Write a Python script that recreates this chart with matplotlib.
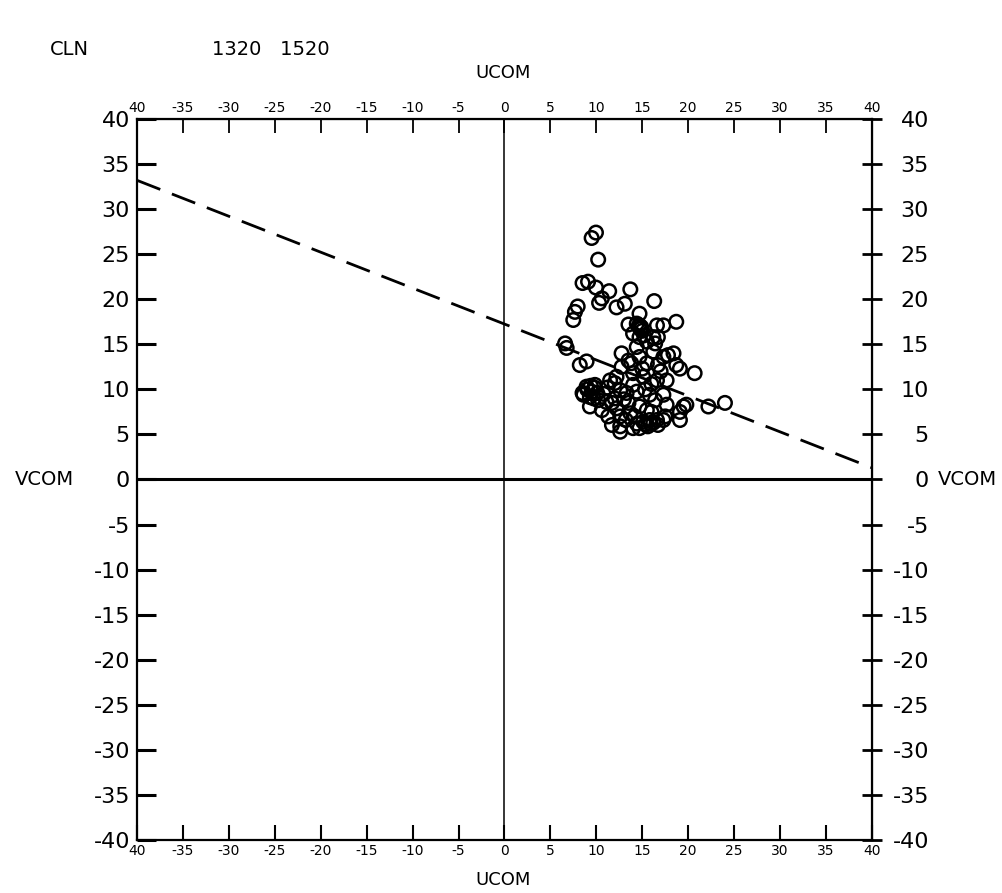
import matplotlib
matplotlib.use('Agg')
import matplotlib.pyplot as plt

plt.rcParams['font.family'] = ['DejaVu Sans']

# 刻度
ticks = list(range(-40, 41, 5))
x_top_labels = ['40'] + [str(t) for t in ticks[1:]]
x_bot_labels = ['40'] + [str(t) for t in ticks[1:]]
y_labels = [str(t) for t in ticks]

# 风矢量散点 (UCOM, VCOM)
ucom = [9.96, 9.49, 10.2, 8.5, 9.1, 9.96, 11.4, 13.7, 10.6, 10.3,
        12.2, 13.1, 16.3, 7.97, 7.67, 7.49, 14.7, 18.7, 13.5, 14.4,
        14.7, 16.6, 17.3, 16.7, 16.2, 14.0, 14.7, 6.6, 6.77, 15.5,
        16.4, 14.4, 12.75, 14.7, 16.2, 17.3, 18.4, 8.94, 8.2, 12.75,
        13.8, 15.5, 16.7, 18.7, 19.1, 20.7, 12.2, 14.0, 15.1, 16.6,
        17.65, 8.94, 9.5, 9.85, 8.5, 9.3, 8.6, 9.7, 11.5, 12.0,
        12.6, 13.3, 14.4, 15.8, 16.4, 17.3, 17.65, 19.5, 19.8, 22.2,
        24.0, 10.2, 11.1, 11.7, 9.3, 10.6, 12.2, 13.5, 14.7, 15.5,
        19.1, 19.1, 11.3, 12.6, 13.7, 11.7, 12.6, 12.6, 14.4, 15.1,
        15.8, 16.6, 17.3, 14.7, 15.6, 16.7, 14.0, 14.0, 15.3, 13.0,
        16.0, 17.0, 15.0, 13.5, 12.0, 10.8, 11.2, 16.0, 17.5, 14.2,
        15.0, 15.2, 14.8, 14.6, 9.0, 9.8, 10.1, 15.9, 13.2, 17.8,
        15.4, 16.2, 14.9, 9.4]
vcom = [27.4, 26.8, 24.4, 21.8, 21.95, 21.3, 20.9, 21.1, 20.1, 19.6,
        19.1, 19.5, 19.8, 19.2, 18.6, 17.7, 18.4, 17.5, 17.2, 17.3,
        17.1, 17.1, 17.1, 15.8, 15.8, 16.2, 15.8, 15.1, 14.6, 15.3,
        15.1, 14.7, 14.0, 13.6, 14.2, 13.6, 14.0, 13.1, 12.7, 12.5,
        12.9, 12.9, 12.7, 12.7, 12.3, 11.8, 11.4, 11.8, 11.4, 11.0,
        11.0, 10.3, 9.75, 10.5, 9.6, 9.15, 9.4, 9.0, 11.0, 10.7,
        9.9, 9.6, 9.75, 9.4, 8.8, 9.4, 8.3, 8.1, 8.3, 8.1,
        8.5, 8.8, 8.6, 8.5, 8.1, 7.7, 7.9, 8.5, 8.1, 7.7,
        7.5, 6.6, 7.0, 7.0, 7.35, 6.05, 5.9, 5.3, 6.2, 6.4,
        6.6, 6.6, 6.6, 5.7, 5.9, 6.05, 5.7, 10.5, 10.0, 8.9,
        10.6, 12.0, 12.3, 13.2, 9.0, 9.5, 10.2, 7.5, 7.0, 7.0,
        16.5, 16.0, 16.7, 17.0, 10.0, 10.2, 9.6, 6.2, 6.6, 13.8,
        6.1, 6.3, 16.9, 10.4]

# 虚线 (u, v)
line_u = [-40, 40]
line_v = [33.2, 1.3]

fig = plt.figure(figsize=(10.02, 8.93), dpi=100)
ax = fig.add_axes([0.1367, 0.0594, 0.7335, 0.8073])
ax.set_xlim(-40, 40)
ax.set_ylim(-40, 40)
for s in ax.spines.values():
    s.set_linewidth(1.6)

ax.axhline(0, color='black', lw=2.2)
ax.axvline(0, color='black', lw=1.1)
ax.plot(line_u, line_v, color='black', lw=2, ls=(0, (9, 4.5)))
ax.scatter(ucom, vcom, s=95, facecolors='none', edgecolors='black',
           linewidths=1.8, zorder=3)

# 左、下
ax.set_xticks(ticks)
ax.set_xticklabels(x_bot_labels, fontsize=10)
ax.set_yticks(ticks)
ax.set_yticklabels(y_labels, fontsize=16)
ax.tick_params(axis='x', direction='in', length=11, width=1.5, pad=3)
ax.tick_params(axis='y', direction='in', length=14, width=2.2, pad=5)

# 上
top = ax.secondary_xaxis('top')
top.set_xticks(ticks)
top.set_xticklabels(x_top_labels, fontsize=10)
top.tick_params(direction='in', length=10, width=1.3, pad=3)

# 右
right = ax.secondary_yaxis('right')
right.set_yticks(ticks)
right.set_yticklabels(y_labels, fontsize=16)
right.tick_params(direction='inout', length=14, width=2.0, pad=34)
for lab in right.get_yticklabels():
    lab.set_ha('right')

fig.text(0.502, 0.918, 'UCOM', ha='center', va='center', fontsize=13)
fig.text(0.502, 0.015, 'UCOM', ha='center', va='center', fontsize=13)
fig.text(0.015, 0.463, 'VCOM', ha='left', va='center', fontsize=14)
fig.text(0.936, 0.463, 'VCOM', ha='left', va='center', fontsize=14)

fig.text(0.05, 0.945, 'CLN', ha='left', va='center', fontsize=14)
fig.text(0.212, 0.945, '1320   1520', ha='left', va='center', fontsize=14)

plt.savefig('out.png', dpi=100)
plt.close()
